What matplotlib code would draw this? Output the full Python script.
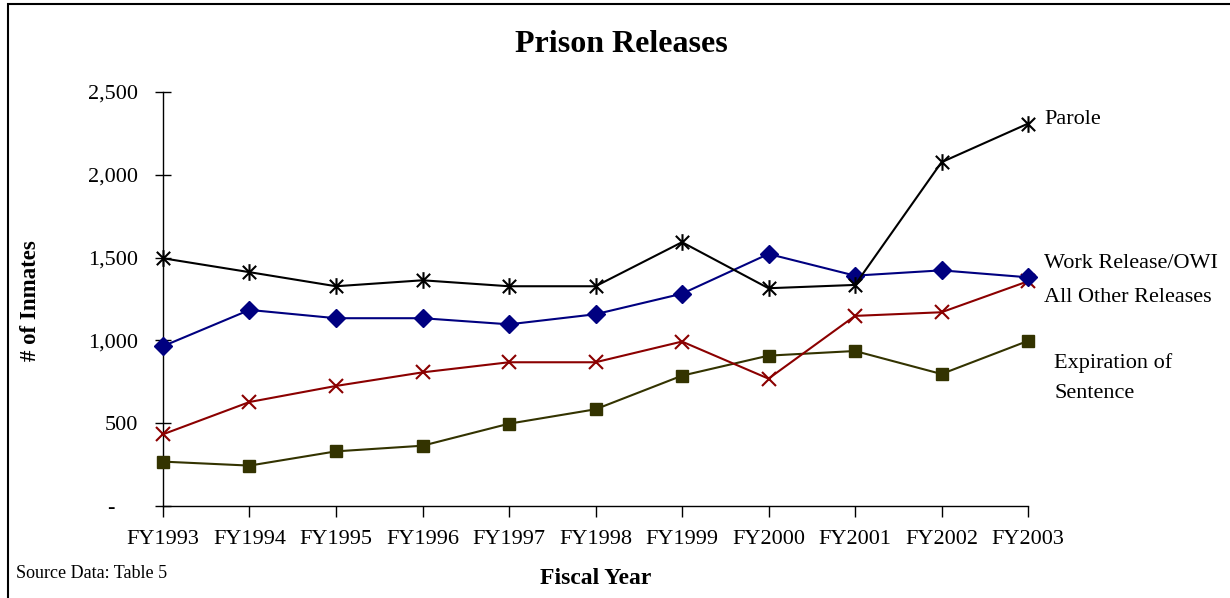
import matplotlib
matplotlib.use("Agg")
import matplotlib.pyplot as plt
from matplotlib.path import Path
from matplotlib.patches import Rectangle

plt.rcParams['font.family'] = ['Liberation Serif', 'DejaVu Serif']

years = ["FY1993", "FY1994", "FY1995", "FY1996", "FY1997", "FY1998",
         "FY1999", "FY2000", "FY2001", "FY2002", "FY2003"]
parole = [1496, 1412, 1327, 1363, 1327, 1327, 1593, 1315, 1335, 2076, 2309]
work_release = [965, 1184, 1134, 1134, 1097, 1158, 1282, 1522, 1391, 1423, 1381]
all_other = [433, 628, 725, 807, 868, 868, 993, 769, 1148, 1170, 1357]
expiration = [268, 244, 330, 364, 497, 584, 787, 908, 936, 797, 997]
y_ticks = [0, 500, 1000, 1500, 2000, 2500]
y_tick_labels = ["-    ", "500", "1,000", "1,500", "2,000", "2,500"]

# asterisk marker: an x crossed by a vertical stroke
star = Path([(-1, -1), (1, 1), (-1, 1), (1, -1), (0, -1.25), (0, 1.25)],
            [Path.MOVETO, Path.LINETO, Path.MOVETO, Path.LINETO,
             Path.MOVETO, Path.LINETO])

fig = plt.figure(figsize=(12.3, 5.98), dpi=100)
ax = fig.add_axes([163 / 1230, 1 - 506 / 598, 865 / 1230, 414 / 598])

x = list(range(len(years)))
ax.plot(x, expiration, color="#333300", lw=1.5, marker="s", ms=9,
        mfc="#333300", mec="#333300", zorder=3, clip_on=False)
ax.plot(x, all_other, color="#8B0000", lw=1.5, marker="x", ms=10,
        mew=1.5, zorder=4, clip_on=False)
ax.plot(x, work_release, color="#000080", lw=1.5, marker="D", ms=9.5,
        mfc="#000080", mec="#000080", zorder=5, clip_on=False)
ax.plot(x, parole, color="black", lw=1.5, marker=star, ms=12,
        mew=1.5, zorder=6, clip_on=False)

ax.set_xlim(0, len(years) - 1)
ax.set_ylim(0, 2500)
ax.set_xticks(x)
ax.set_xticklabels(years, fontsize=16)
ax.set_yticks(y_ticks)
ax.set_yticklabels(y_tick_labels, fontsize=16)
ax.tick_params(axis="x", direction="out", length=8, width=1, pad=9)
ax.tick_params(axis="y", direction="inout", length=12, width=1, pad=12)
for side in ("top", "right"):
    ax.spines[side].set_visible(False)
for side in ("left", "bottom"):
    ax.spines[side].set_linewidth(1)

# series labels at the right end of each line
fig.text(1044 / 1230, 1 - 119 / 598, "Parole", fontsize=16, va="center")
fig.text(1044 / 1230, 1 - 263 / 598, "Work Release/OWI", fontsize=16, va="center")
fig.text(1044 / 1230, 1 - 297 / 598, "All Other Releases", fontsize=16, va="center")
fig.text(1054 / 1230, 1 - 363 / 598, "Expiration of", fontsize=16, va="center")
fig.text(1054 / 1230, 1 - 393 / 598, "Sentence", fontsize=16, va="center")

fig.text(621 / 1230, 1 - 45 / 598, "Prison Releases", fontsize=23,
         fontweight="bold", ha="center", va="center")
fig.text(30 / 1230, 1 - 301 / 598, "# of Inmates", fontsize=16.5,
         fontweight="bold", rotation=90, ha="center", va="center")
fig.text(596 / 1230, 1 - 578 / 598, "Fiscal Year", fontsize=17,
         fontweight="bold", ha="center", va="center")
fig.text(16 / 1230, 1 - 574 / 598, "Source Data: Table 5", fontsize=13,
         ha="left", va="center")

# chart border
fig.patches.append(Rectangle((8 / 1230, -0.1), 1.2, 1 - 4 / 598 + 0.1,
                             transform=fig.transFigure, fill=False,
                             lw=1.5, ec="black", clip_on=False))

fig.savefig("out.png", dpi=100)
